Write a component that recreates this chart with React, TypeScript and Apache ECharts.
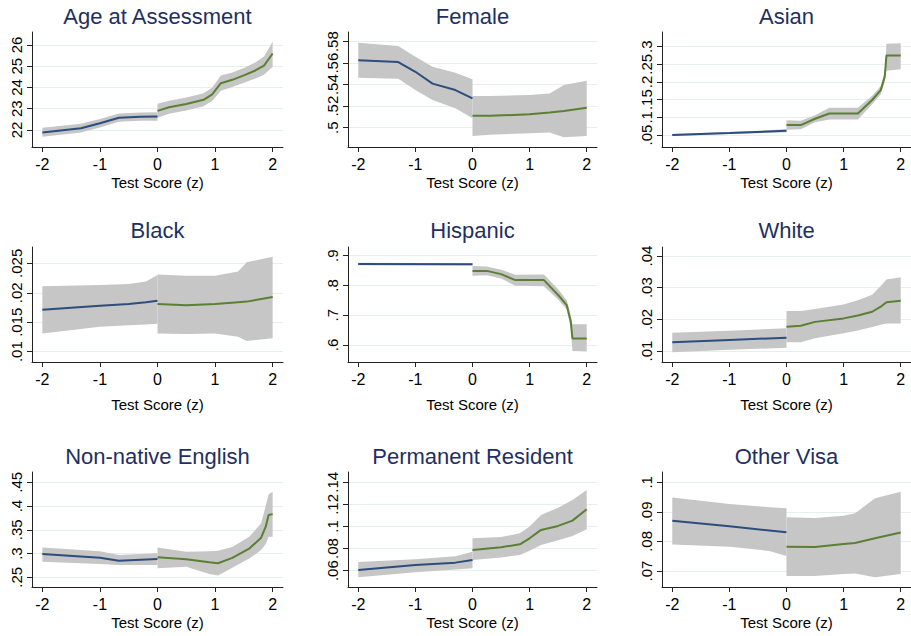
import React, { useEffect, useRef } from "react";
import * as echarts from "echarts";

// ---------- data ----------
const xTicks = [-2, -1, 0, 1, 2];

const titles = [
  "Age at Assessment", "Female", "Asian",
  "Black", "Hispanic", "White",
  "Non-native English", "Permanent Resident", "Other Visa",
];

// Age at Assessment
const ageTicks = [22, 23, 24, 25, 26];
const ageLeftX = [-2, -1.33, -1, -0.67, -0.3, 0];
const ageLeftFit = [21.88, 22.08, 22.32, 22.58, 22.62, 22.64];
const ageLeftLo = [21.68, 21.88, 22.12, 22.39, 22.43, 22.44];
const ageLeftHi = [22.1, 22.29, 22.52, 22.78, 22.82, 22.84];
const ageRightX = [0, 0.2, 0.5, 0.8, 0.95, 1.1, 1.3, 1.5, 1.7, 1.85, 2];
const ageRightFit = [22.9, 23.07, 23.22, 23.42, 23.68, 24.2, 24.36, 24.57, 24.8, 25.03, 25.6];
const ageRightLo = [22.58, 22.77, 22.92, 23.12, 23.36, 23.85, 24.02, 24.22, 24.42, 24.6, 24.98];
const ageRightHi = [23.23, 23.38, 23.53, 23.73, 24.0, 24.56, 24.7, 24.92, 25.18, 25.46, 26.15];

// Female
const femTicks = [0.5, 0.52, 0.54, 0.56, 0.58];
const femLeftX = [-2, -1.3, -1, -0.7, -0.3, 0];
const femLeftFit = [0.5626, 0.561, 0.552, 0.541, 0.535, 0.5273];
const femLeftLo = [0.5464, 0.5455, 0.535, 0.5257, 0.518, 0.5087];
const femLeftHi = [0.579, 0.576, 0.566, 0.5566, 0.551, 0.545];
const femRightX = [0, 0.3, 1, 1.35, 1.6, 2];
const femRightFit = [0.5111, 0.511, 0.5124, 0.514, 0.5155, 0.5186];
const femRightLo = [0.4923, 0.4935, 0.4948, 0.4955, 0.4911, 0.4923];
const femRightHi = [0.5294, 0.5294, 0.5303, 0.5317, 0.5397, 0.5437];

// Asian
const asiTicks = [0.05, 0.1, 0.15, 0.2, 0.25, 0.3];
const asiLeftX = [-2, -1, 0];
const asiLeftFit = [0.05, 0.0555, 0.062];
const asiLeftLo = [0.047, 0.0525, 0.058];
const asiLeftHi = [0.053, 0.0585, 0.066];
const asiRightX = [0, 0.25, 0.5, 0.75, 1.25, 1.5, 1.65, 1.72, 1.75, 2];
const asiRightFit = [0.078, 0.078, 0.096, 0.111, 0.111, 0.149, 0.177, 0.215, 0.275, 0.275];
const asiRightLo = [0.065, 0.066, 0.086, 0.094, 0.094, 0.137, 0.165, 0.202, 0.232, 0.236];
const asiRightHi = [0.092, 0.09, 0.106, 0.127, 0.127, 0.161, 0.189, 0.228, 0.308, 0.31];

// Black
const blaTicks = [0.01, 0.015, 0.02, 0.025];
const blaLeftX = [-2, -1, -0.5, -0.2, 0];
const blaLeftFit = [0.0171, 0.0178, 0.0181, 0.0184, 0.01866];
const blaLeftLo = [0.0131, 0.01425, 0.0145, 0.0146, 0.01476];
const blaLeftHi = [0.0211, 0.0213, 0.0215, 0.0219, 0.023];
const blaRightX = [0, 0.5, 1, 1.4, 1.55, 2];
const blaRightFit = [0.0181, 0.0179, 0.0181, 0.0184, 0.0185, 0.0193];
const blaRightLo = [0.0131, 0.013, 0.0131, 0.01255, 0.0118, 0.0123];
const blaRightHi = [0.0231, 0.0229, 0.0229, 0.0236, 0.0252, 0.0261];

// Hispanic
const hisTicks = [0.6, 0.7, 0.8, 0.9];
const hisLeftX = [-2, 0];
const hisLeftFit = [0.872, 0.871];
const hisLeftLo = [0.868, 0.867];
const hisLeftHi = [0.876, 0.875];
const hisRightX = [0, 0.25, 0.5, 0.75, 1.25, 1.5, 1.65, 1.72, 1.75, 2];
const hisRightFit = [0.849, 0.849, 0.838, 0.818, 0.818, 0.768, 0.734, 0.679, 0.622, 0.622];
const hisRightLo = [0.833, 0.834, 0.823, 0.799, 0.797, 0.753, 0.718, 0.66, 0.58, 0.578];
const hisRightHi = [0.865, 0.864, 0.853, 0.836, 0.837, 0.787, 0.75, 0.7, 0.67, 0.67];

// White
const whiTicks = [0.01, 0.02, 0.03, 0.04];
const whiLeftX = [-2, -1, 0];
const whiLeftFit = [0.01275, 0.0135, 0.0142];
const whiLeftLo = [0.0096, 0.0104, 0.011];
const whiLeftHi = [0.0158, 0.0164, 0.0172];
const whiRightX = [0, 0.25, 0.5, 1, 1.25, 1.5, 1.65, 1.75, 2];
const whiRightFit = [0.01767, 0.018, 0.0192, 0.0203, 0.0212, 0.0224, 0.024, 0.0254, 0.0259];
const whiRightLo = [0.01275, 0.0128, 0.014, 0.0156, 0.0165, 0.0176, 0.0183, 0.0187, 0.0187];
const whiRightHi = [0.0226, 0.0226, 0.0233, 0.0247, 0.026, 0.0278, 0.0305, 0.0326, 0.0333];

// Non-native English
const nneTicks = [0.25, 0.3, 0.35, 0.4, 0.45];
const nneLeftX = [-2, -1, -0.67, 0];
const nneLeftFit = [0.299, 0.2913, 0.285, 0.2885];
const nneLeftLo = [0.283, 0.278, 0.276, 0.276];
const nneLeftHi = [0.313, 0.305, 0.297, 0.3005];
const nneRightX = [0, 0.5, 0.9, 1.05, 1.3, 1.6, 1.8, 1.88, 1.93, 2];
const nneRightFit = [0.292, 0.288, 0.2816, 0.2795, 0.291, 0.311, 0.3334, 0.3566, 0.381, 0.383];
const nneRightLo = [0.269, 0.272, 0.257, 0.254, 0.27, 0.29, 0.3075, 0.32, 0.3355, 0.3355];
const nneRightHi = [0.313, 0.304, 0.305, 0.306, 0.314, 0.336, 0.364, 0.4, 0.425, 0.43];

// Permanent Resident
const perTicks = [0.06, 0.08, 0.1, 0.12, 0.14];
const perLeftX = [-2, -1, -0.3, 0];
const perLeftFit = [0.0606, 0.0652, 0.0673, 0.0697];
const perLeftLo = [0.054, 0.0585, 0.061, 0.0622];
const perLeftHi = [0.0679, 0.0703, 0.073, 0.0772];
const perRightX = [0, 0.5, 0.83, 1, 1.2, 1.5, 1.75, 2];
const perRightFit = [0.0787, 0.0812, 0.0839, 0.0893, 0.0969, 0.1005, 0.1053, 0.1156];
const perRightLo = [0.0697, 0.072, 0.0742, 0.078, 0.0833, 0.0875, 0.0914, 0.0975];
const perRightHi = [0.0893, 0.0905, 0.0938, 0.0999, 0.1105, 0.117, 0.124, 0.1331];

// Other Visa
const visTicks = [0.07, 0.08, 0.09, 0.1];
const visLeftX = [-2, -1, -0.3, 0];
const visLeftFit = [0.087, 0.0851, 0.0837, 0.0831];
const visLeftLo = [0.079, 0.0782, 0.0768, 0.0751];
const visLeftHi = [0.0949, 0.0927, 0.0916, 0.0912];
const visRightX = [0, 0.5, 1, 1.2, 1.55, 2];
const visRightFit = [0.0782, 0.0781, 0.0791, 0.0795, 0.0811, 0.083];
const visRightLo = [0.0683, 0.0683, 0.069, 0.0692, 0.0679, 0.069];
const visRightHi = [0.0882, 0.0879, 0.0887, 0.0895, 0.0946, 0.0968];

// y-axis ranges [min, max]
const yRanges = [
  [21.2, 26.61], [0.482, 0.589], [0.016, 0.3416],
  [0.00825, 0.02777], [0.5429, 0.9292], [0.00653, 0.04284],
  [0.2296, 0.4717], [0.04525, 0.1493], [0.0646, 0.10348],
];

const panels = [
  { ticks: ageTicks, L: [ageLeftX, ageLeftFit, ageLeftLo, ageLeftHi], R: [ageRightX, ageRightFit, ageRightLo, ageRightHi] },
  { ticks: femTicks, L: [femLeftX, femLeftFit, femLeftLo, femLeftHi], R: [femRightX, femRightFit, femRightLo, femRightHi] },
  { ticks: asiTicks, L: [asiLeftX, asiLeftFit, asiLeftLo, asiLeftHi], R: [asiRightX, asiRightFit, asiRightLo, asiRightHi] },
  { ticks: blaTicks, L: [blaLeftX, blaLeftFit, blaLeftLo, blaLeftHi], R: [blaRightX, blaRightFit, blaRightLo, blaRightHi] },
  { ticks: hisTicks, L: [hisLeftX, hisLeftFit, hisLeftLo, hisLeftHi], R: [hisRightX, hisRightFit, hisRightLo, hisRightHi] },
  { ticks: whiTicks, L: [whiLeftX, whiLeftFit, whiLeftLo, whiLeftHi], R: [whiRightX, whiRightFit, whiRightLo, whiRightHi] },
  { ticks: nneTicks, L: [nneLeftX, nneLeftFit, nneLeftLo, nneLeftHi], R: [nneRightX, nneRightFit, nneRightLo, nneRightHi] },
  { ticks: perTicks, L: [perLeftX, perLeftFit, perLeftLo, perLeftHi], R: [perRightX, perRightFit, perRightLo, perRightHi] },
  { ticks: visTicks, L: [visLeftX, visLeftFit, visLeftLo, visLeftHi], R: [visRightX, visRightFit, visRightLo, visRightHi] },
];

// ---------- layout / style ----------
const colLeft = [32, 348, 662];
const colWidth = [251, 249, 249];
const rowTop = [32, 247, 472];
const plotH = 115;
const titleY = [16, 230, 456];
const nameGaps = [28, 35, 28];

const FONT = "'Liberation Sans', Arial, Helvetica, sans-serif";
const BLUE = "#2c4d7d";
const GREEN = "#5b7f33";
const BAND = "#c6c6c6";
const TITLE = "#1f3060";
const GRIDC = "#e6eef0";

function fmt(v: number): string {
  const s = String(parseFloat(Number(v).toPrecision(6)));
  return s.replace(/^0\./, ".").replace(/^-0\./, "-.");
}

function bandSeries(i: number, xs: number[], lo: number[], hi: number[]) {
  return {
    type: "custom",
    xAxisIndex: i,
    yAxisIndex: i,
    silent: true,
    z: 1,
    data: [[xs[0], lo[0], hi[0]]],
    encode: { x: 0, y: [1, 2] },
    renderItem: (_params: any, api: any) => {
      const top = xs.map((x, k) => api.coord([x, hi[k]]));
      const bot = xs.map((x, k) => api.coord([x, lo[k]])).reverse();
      return {
        type: "polygon",
        shape: { points: top.concat(bot) },
        style: { fill: BAND, stroke: null },
      };
    },
  };
}

function lineSeries(i: number, xs: number[], fit: number[], color: string) {
  return {
    type: "line",
    xAxisIndex: i,
    yAxisIndex: i,
    z: 3,
    silent: true,
    showSymbol: false,
    symbol: "none",
    data: xs.map((x, k) => [x, fit[k]]),
    lineStyle: { color, width: 2 },
  };
}

export default function App() {
  const ref = useRef<HTMLDivElement>(null);
  useEffect(() => {
    document.body.style.margin = "0";
    const chart = echarts.init(ref.current!, null, { renderer: "svg" });
    const grid: any[] = [];
    const xAxis: any[] = [];
    const yAxis: any[] = [];
    const series: any[] = [];
    const graphic: any[] = [];
    panels.forEach((p, i) => {
      const r = Math.floor(i / 3);
      const c = i % 3;
      grid.push({ left: colLeft[c], top: rowTop[r], width: colWidth[c], height: plotH, containLabel: false });
      xAxis.push({
        type: "value",
        gridIndex: i,
        min: -2.18,
        max: 2.18,
        axisLine: { show: true, onZero: false, lineStyle: { color: "#222", width: 1 } },
        axisTick: { show: true, length: 5, customValues: xTicks, lineStyle: { color: "#222" } },
        axisLabel: { customValues: xTicks, fontSize: 16, color: "#000", margin: 9, fontFamily: FONT },
        splitLine: { show: false },
        name: "Test Score (z)",
        nameLocation: "middle",
        nameGap: nameGaps[r],
        nameTextStyle: { fontSize: 15, color: "#000", fontFamily: FONT },
      });
      yAxis.push({
        type: "value",
        gridIndex: i,
        min: yRanges[i][0],
        max: yRanges[i][1],
        axisLine: { show: true, onZero: false, lineStyle: { color: "#222", width: 1 } },
        axisTick: { show: true, length: 5, customValues: p.ticks, lineStyle: { color: "#222" } },
        axisLabel: {
          customValues: p.ticks,
          rotate: 90,
          fontSize: 15,
          color: "#000",
          margin: 8,
          fontFamily: FONT,
          formatter: (v: number) => fmt(v),
        },
        splitLine: { show: true, lineStyle: { color: GRIDC, width: 1 } },
      });
      series.push(bandSeries(i, p.L[0], p.L[2], p.L[3]));
      series.push(bandSeries(i, p.R[0], p.R[2], p.R[3]));
      series.push(lineSeries(i, p.L[0], p.L[1], BLUE));
      series.push(lineSeries(i, p.R[0], p.R[1], GREEN));
      graphic.push({
        type: "text",
        x: colLeft[c] + colWidth[c] / 2,
        y: titleY[r],
        style: {
          text: titles[i],
          fill: TITLE,
          font: `22px ${FONT}`,
          textAlign: "center",
          textVerticalAlign: "middle",
        },
      });
    });
    chart.setOption({
      animation: false,
      backgroundColor: "#ffffff",
      grid,
      xAxis,
      yAxis,
      series,
      graphic,
    });
    return () => chart.dispose();
  }, []);
  return <div ref={ref} style={{ width: 911, height: 636 }} />;
}
